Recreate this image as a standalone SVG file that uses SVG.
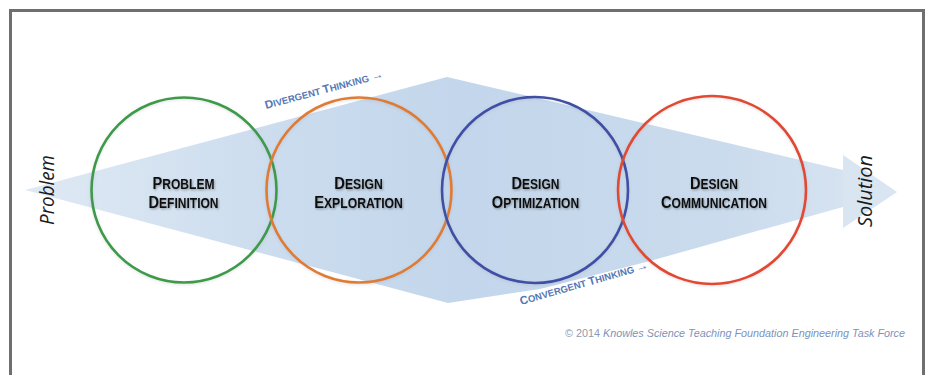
<svg xmlns="http://www.w3.org/2000/svg" width="927" height="375" viewBox="0 0 927 375">
<defs>
<linearGradient id="band" x1="25" y1="0" x2="897" y2="0" gradientUnits="userSpaceOnUse">
<stop offset="0" stop-color="#dfe9f4"/>
<stop offset="0.3" stop-color="#cbdcee"/>
<stop offset="0.5" stop-color="#c3d6eb"/>
<stop offset="0.8" stop-color="#cadbed"/>
<stop offset="1" stop-color="#dae6f2"/>
</linearGradient>
<filter id="sh" x="-20%" y="-40%" width="140%" height="180%">
<feDropShadow dx="1" dy="1.2" stdDeviation="1.2" flood-color="#000" flood-opacity="0.35"/>
</filter>
<filter id="glow" x="-10%" y="-10%" width="120%" height="120%">
<feDropShadow dx="0" dy="1" stdDeviation="1.5" flood-color="#889" flood-opacity="0.25"/>
</filter>
</defs>
<style>
.frame{fill:#fff;stroke:#6f6f6f;stroke-width:3}
.ring{fill:none;stroke-width:2.6}
.lab{font-family:"Liberation Sans",Arial,sans-serif;font-weight:bold;fill:#111;text-anchor:middle;filter:url(#sh)}
.big{font-size:17px}
.sm{font-size:14px}
.end{font-family:"Open Sans","Liberation Sans",sans-serif;font-style:italic;font-size:20px;fill:#1a1a1a;text-anchor:middle}
.think{font-family:"Liberation Sans",Arial,sans-serif;font-weight:bold;fill:#5577b5}
.copy{font-family:"Liberation Sans",Arial,sans-serif;font-size:11px;fill:#7d93bb}
</style>
<rect class="frame" x="10.5" y="10.5" width="913" height="380"/>
<g id="band-shape">
<polygon fill="url(#band)" points="25,190 447,77 843,170 843,207 650,261 540,289 448,303"/>
<polygon fill="#dae5f2" points="843,155 897,192 843,228"/>
</g>
<g id="problem-definition">
<circle class="ring" cx="184" cy="190" r="92.5" stroke="#3e9a4a" filter="url(#glow)"/>
<text class="lab" transform="translate(183.5,0) scale(0.86,1)"><tspan x="0" y="189"><tspan class="big">P</tspan><tspan class="sm">ROBLEM</tspan></tspan><tspan x="0" y="208"><tspan class="big">D</tspan><tspan class="sm">EFINITION</tspan></tspan></text>
</g>
<g id="design-exploration">
<circle class="ring" cx="359" cy="190" r="92.5" stroke="#e07b32" filter="url(#glow)"/>
<text class="lab" transform="translate(358.5,0) scale(0.87,1)"><tspan x="0" y="189"><tspan class="big">D</tspan><tspan class="sm">ESIGN</tspan></tspan><tspan x="0" y="208"><tspan class="big">E</tspan><tspan class="sm">XPLORATION</tspan></tspan></text>
</g>
<g id="design-optimization">
<circle class="ring" cx="535" cy="190" r="93" stroke="#3f4fa6" filter="url(#glow)"/>
<text class="lab" transform="translate(535.5,0) scale(0.86,1)"><tspan x="0" y="189"><tspan class="big">D</tspan><tspan class="sm">ESIGN</tspan></tspan><tspan x="0" y="208"><tspan class="big">O</tspan><tspan class="sm">PTIMIZATION</tspan></tspan></text>
</g>
<g id="design-communication">
<circle class="ring" cx="712" cy="190" r="94" stroke="#e24a30" filter="url(#glow)"/>
<text class="lab" transform="translate(714,0) scale(0.86,1)"><tspan x="0" y="189"><tspan class="big">D</tspan><tspan class="sm">ESIGN</tspan></tspan><tspan x="0" y="208"><tspan class="big">C</tspan><tspan class="sm">OMMUNICATION</tspan></tspan></text>
</g>
<g id="problem">
<text class="end" transform="translate(54,190) rotate(-90)" x="0" y="0" textLength="70" lengthAdjust="spacingAndGlyphs">Problem</text>
</g>
<g id="solution">
<text class="end" transform="translate(872,191) rotate(-90)" x="0" y="0" textLength="72" lengthAdjust="spacingAndGlyphs">Solution</text>
</g>
<g id="labels">
<text class="think" transform="translate(266,109) rotate(-15)" textLength="122" lengthAdjust="spacingAndGlyphs"><tspan font-size="11.5">D</tspan><tspan font-size="9.5">IVERGENT </tspan><tspan font-size="11.5">T</tspan><tspan font-size="9.5">HINKING </tspan><tspan font-size="12">→</tspan></text>
<text class="think" transform="translate(521,305) rotate(-16)" textLength="133" lengthAdjust="spacingAndGlyphs"><tspan font-size="11.5">C</tspan><tspan font-size="9.5">ONVERGENT </tspan><tspan font-size="11.5">T</tspan><tspan font-size="9.5">HINKING </tspan><tspan font-size="12">→</tspan></text>
<text class="copy" x="565" y="337" textLength="340" lengthAdjust="spacingAndGlyphs"><tspan fill="#8d9ab0">© 2014 </tspan><tspan font-style="italic">Knowles Science Teaching Foundation Engineering Task Force</tspan></text>
</g>
</svg>
